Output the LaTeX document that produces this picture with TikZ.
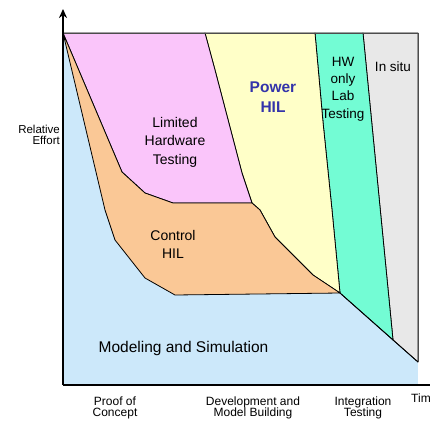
\documentclass[tikz,border=0pt]{standalone}
\usepackage{fontspec}
\setmainfont{Liberation Sans}
\usetikzlibrary{arrows.meta}
\definecolor{simblue}{RGB}{204,232,250}
\definecolor{hwpink}{RGB}{250,197,250}
\definecolor{ctlorange}{RGB}{250,200,150}
\definecolor{pwryellow}{RGB}{255,255,200}
\definecolor{labgreen}{RGB}{115,252,212}
\definecolor{situgrey}{RGB}{232,232,232}
\definecolor{pwrtext}{RGB}{51,51,170}
\begin{document}
\begin{tikzpicture}[x=1pt,y=-1pt,
  region/.style={draw=black,line width=0.8pt,line join=round},
  axis/.style={draw=black,line width=1.6pt},
  lbl/.style={inner sep=0pt,align=center,font=\fontsize{14}{18.5}\selectfont},
  small/.style={inner sep=0pt,font=\fontsize{11.5}{11.5}\selectfont}]
\useasboundingbox (0,0) rectangle (430,420);
\clip (0,0) rectangle (430,420);
% key points
\coordinate (tl) at (63,33);
\coordinate (br) at (418,385);
\coordinate (pk) at (205,33);
\coordinate (gr) at (315,33);
\coordinate (gy) at (363,33);
\coordinate (tr) at (418,33);
\coordinate (a1) at (215,70);
\coordinate (a2) at (242,173);
\coordinate (a3) at (252,203);
\coordinate (b1) at (260,210);
\coordinate (b2) at (275,237);
\coordinate (b3) at (313,275);
\coordinate (m) at (340,293);
\coordinate (g1) at (323,122);
\coordinate (g2) at (332,210);
\coordinate (s1) at (393,340);
\coordinate (s2) at (418,362);
% regions
\fill[simblue] (tl) rectangle (br);
\filldraw[region,fill=situgrey] (gy) -- (tr) -- (s2) -- (s1) -- cycle;
\filldraw[region,fill=labgreen] (gr) -- (gy) -- (s1) -- (m) -- (g2) -- (g1) -- cycle;
\filldraw[region,fill=pwryellow] (pk) -- (gr) -- (g1) -- (g2) -- (m) -- (b3) -- (b2) -- (b1) -- (a3) -- (a2) -- (a1) -- cycle;
\filldraw[region,fill=hwpink] (tl) -- (pk) -- (a1) -- (a2) -- (a3) -- (173,203) -- (145,193) -- (122,172) -- cycle;
\filldraw[region,fill=ctlorange] (tl) -- (122,172) -- (145,193) -- (173,203) -- (a3) -- (b1) -- (b2) -- (b3) -- (m) -- (175,295) -- (145,278) -- (115,240) -- (105,210) -- cycle;
\draw[region] (m) -- (s2);
\draw[draw=black!70,line width=0.9pt] (tl) -- (tr) -- (s2);
% axes
\coordinate (O) at (63,385);
\coordinate (ytop) at (63,9);
\coordinate (xend) at (432,385);
\draw[axis,-{Stealth[length=9pt,width=8pt]}] (O) -- (ytop);
\draw[axis] (O) -- (xend);
% labels
\node[small,anchor=east,align=right] (relEffort) at (60,135) {Relative\\Effort};
\node[lbl] (lht) at (175,142) {Limited\\Hardware\\Testing};
\node[lbl,font=\bfseries\fontsize{15.5}{20}\selectfont,text=pwrtext] (phil) at (273,97.5) {Power\\HIL};
\node[lbl,font=\fontsize{13.5}{17.3}\selectfont] (hwlab) at (343,89) {HW\\only\\Lab\\Testing};
\node[lbl,font=\fontsize{13.5}{17}\selectfont] (insitu) at (393,67) {In situ};
\node[lbl,font=\fontsize{14}{18}\selectfont] (chil) at (173,244) {Control\\HIL};
\node[lbl,font=\fontsize{15.5}{18}\selectfont] (mas) at (183.5,348) {Modeling and Simulation};
\node[small,align=center,font=\fontsize{12}{11.2}\selectfont] (poc) at (115,408) {Proof of\\Concept};
\node[small,align=center,font=\fontsize{12}{11.2}\selectfont] (dmb) at (253,408) {Development and\\Model Building};
\node[small,align=center,font=\fontsize{12}{11.2}\selectfont] (int) at (363,408) {Integration\\Testing};
\node[small,anchor=west,font=\fontsize{12}{12}\selectfont] (time) at (411,398) {Time};
\end{tikzpicture}
\end{document}
